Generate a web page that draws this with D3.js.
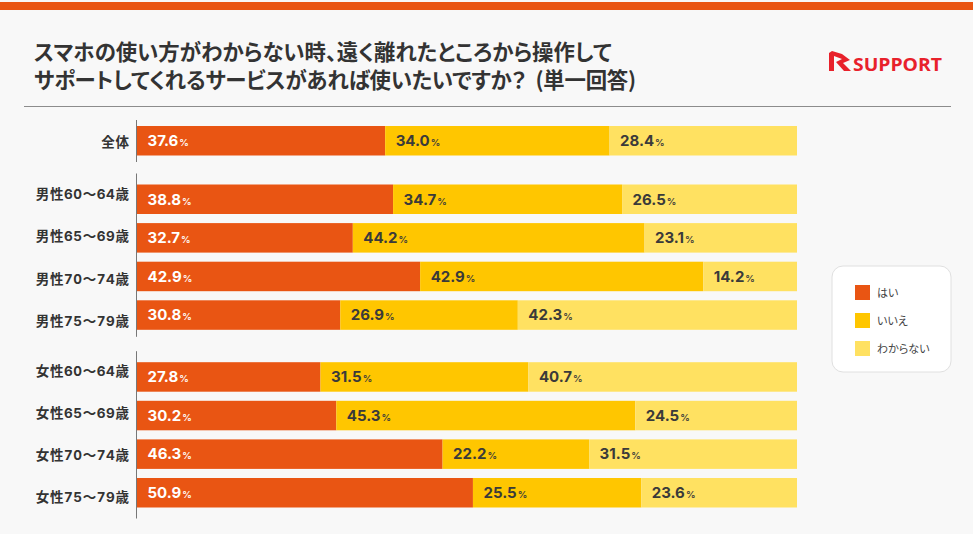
<!DOCTYPE html>
<html>
  <head>
    <meta charset="utf-8">
    <title>スマホの使い方</title>
    <script src="https://cdn.jsdelivr.net/npm/d3@7/dist/d3.min.js" type="text/javascript"></script>
    <style type="text/css">
      html, body { margin: 0; padding: 0; background-color: #f8f8f8; overflow: hidden; }
      text { font-family: "Noto Sans CJK JP", "Noto Sans", sans-serif; font-feature-settings: "palt"; }
      text.cat { font-feature-settings: "palt", "tnum"; }
    </style>
  </head>
  <body>
    <script type="text/javascript">
      // valores
      var groups = ["total", "men", "women"];
      var categories = ["全体", "男性60〜64歳", "男性65〜69歳", "男性70〜74歳", "男性75〜79歳",
                        "女性60〜64歳", "女性65〜69歳", "女性70〜74歳", "女性75〜79歳"];
      var categoryGroups = ["total", "men", "men", "men", "men", "women", "women", "women", "women"];
      var seriesNames = ["はい", "いいえ", "わからない"];
      var yes = [37.6, 38.8, 32.7, 42.9, 30.8, 27.8, 30.2, 46.3, 50.9];
      var no = [34.0, 34.7, 44.2, 42.9, 26.9, 31.5, 45.3, 22.2, 25.5];
      var unknown = [28.4, 26.5, 23.1, 14.2, 42.3, 40.7, 24.5, 31.5, 23.6];
      var titleLines = ["スマホの使い方がわからない時、遠く離れたところから操作して",
                        "サポートしてくれるサービスがあれば使いたいですか？\u00a0\u00a0(単一回答)"];

      var W = 973, H = 534;
      var colors = ["#e95513", "#ffc600", "#ffe161"];
      var labelColors = ["#ffffff", "#3a3a3a", "#3a3a3a"];
      var series = [yes, no, unknown];

      var svg = d3.select("body").append("svg")
                  .attr("width", W).attr("height", H)
                  .style("display", "block");

      svg.append("rect").attr("width", W).attr("height", H).attr("fill", "#f8f8f8");
      svg.append("rect").attr("y", 2).attr("width", W).attr("height", 8).attr("fill", "#e95513");

      // titulo
      svg.selectAll("text.title").data(titleLines).enter().append("text")
         .attr("class", "title")
         .attr("x", 34)
         .attr("y", function(d, i) { return 60 + i * 28; })
         .attr("font-size", 21.4)
         .attr("font-weight", 700)
         .attr("fill", "#333333")
         .attr("letter-spacing", function(d, i) { return i == 1 ? -0.2 : 0; })
         .text(function(d) { return d; });

      svg.append("line").attr("x1", 24).attr("x2", 951).attr("y1", 106.5).attr("y2", 106.5)
         .attr("stroke", "#8c8c8c").attr("stroke-width", 1);

      // logo
      var logo = svg.append("g").attr("transform", "translate(829,51)");
      logo.append("path")
          .attr("d", "M0,2 L3,0 L13,3 L21,9 L14,12 L22,20 L15,20 L7,11 L13,8 L5,5 L5,20 L0,20 Z")
          .attr("fill", "#e8212b");
      logo.append("text").attr("x", 24).attr("y", 20)
          .attr("font-size", 18).attr("font-weight", 700)
          .attr("fill", "#e8212b")
          .attr("textLength", 89).attr("lengthAdjust", "spacingAndGlyphs")
          .style("font-family", "'Open Sans'")
          .text("SUPPORT");

      // escalas
      var x = d3.scaleLinear().domain([0, 100]).range([137, 797]);
      var yRow = d3.scaleLinear().domain([0, 1]).range([126, 164.6]);
      var groupGap = d3.scaleOrdinal().domain(groups).range([0, 19.9, 43.2]);
      var labelRow = d3.scaleLinear().domain([0, 1]).range([147, 147 + 42.2]);
      var labelGap = d3.scaleOrdinal().domain(groups).range([0, 10, 17.5]);
      var barH = 29.5;
      function rowY(i) { return yRow(i) + groupGap(categoryGroups[i]); }
      function labelY(i) { return labelRow(i) + labelGap(categoryGroups[i]); }

      var stack = d3.stack().keys([0, 1, 2]).value(function(d, k) { return series[k][d]; });
      var stacked = stack(d3.range(categories.length));

      var layers = svg.selectAll("g.layer").data(stacked).enter().append("g").attr("class", "layer");
      layers.selectAll("rect").data(function(d) { return d; }).enter().append("rect")
            .attr("x", function(d) { return x(d[0]); })
            .attr("y", function(d) { return rowY(d.data); })
            .attr("width", function(d) { return x(d[1]) - x(d[0]); })
            .attr("height", barH)
            .attr("fill", function(d, i, n) { return colors[n[i].parentNode.__data__.key]; });

      // etiquetas de valor
      var labels = layers.selectAll("text").data(function(d) { return d; }).enter().append("text")
            .attr("x", function(d) { return x(d[0]) + 10.5; })
            .attr("y", function(d) { return rowY(d.data) + 20; })
            .attr("fill", function(d, i, n) { return labelColors[n[i].parentNode.__data__.key]; })
            .style("font-family", "Inter");
      labels.append("tspan").attr("font-size", 15).attr("font-weight", 700)
            .text(function(d) { return (d[1] - d[0]).toFixed(1); });
      labels.append("tspan").attr("font-size", 9.5).attr("font-weight", 600).attr("dx", 1).text("%");

      // categorias
      svg.selectAll("text.cat").data(categories).enter().append("text")
         .attr("class", "cat")
         .attr("x", 129.5)
         .attr("y", function(d, i) { return labelY(i); })
         .attr("text-anchor", "end")
         .attr("font-size", 13.5)
         .attr("font-weight", 700)
         .attr("letter-spacing", 0.6)
         .attr("fill", "#333333")
         .style("font-family", "Inter, 'Noto Sans CJK JP'")
         .text(function(d) { return d; });

      // ejes de cada grupo
      var axisTop = d3.scaleOrdinal().domain(groups).range([6, 11, 11]);
      var axisBottom = d3.scaleOrdinal().domain(groups).range([6.5, 7, 11]);
      groups.forEach(function(g) {
        var idx = d3.range(categories.length).filter(function(i) { return categoryGroups[i] == g; });
        svg.append("line")
           .attr("x1", 136.5).attr("x2", 136.5)
           .attr("y1", rowY(idx[0]) - axisTop(g))
           .attr("y2", rowY(idx[idx.length - 1]) + barH + axisBottom(g))
           .attr("stroke", "#777777").attr("stroke-width", 1);
      });

      // leyenda
      var legend = svg.append("g").attr("transform", "translate(832,266)");
      legend.append("rect").attr("width", 119).attr("height", 106).attr("rx", 11)
            .attr("fill", "#ffffff").attr("stroke", "#e0e0e0");
      var li = legend.selectAll("g.item").data(seriesNames).enter().append("g")
            .attr("class", "item")
            .attr("transform", function(d, i) { return "translate(23," + (19 + i * 28) + ")"; });
      li.append("rect").attr("width", 15).attr("height", 15)
        .attr("fill", function(d, i) { return colors[i]; });
      li.append("text").attr("x", 22).attr("y", 12).attr("font-size", 11)
        .attr("font-weight", 400)
        .attr("fill", "#444444").text(function(d) { return d; });
    </script>
  </body>
</html>
